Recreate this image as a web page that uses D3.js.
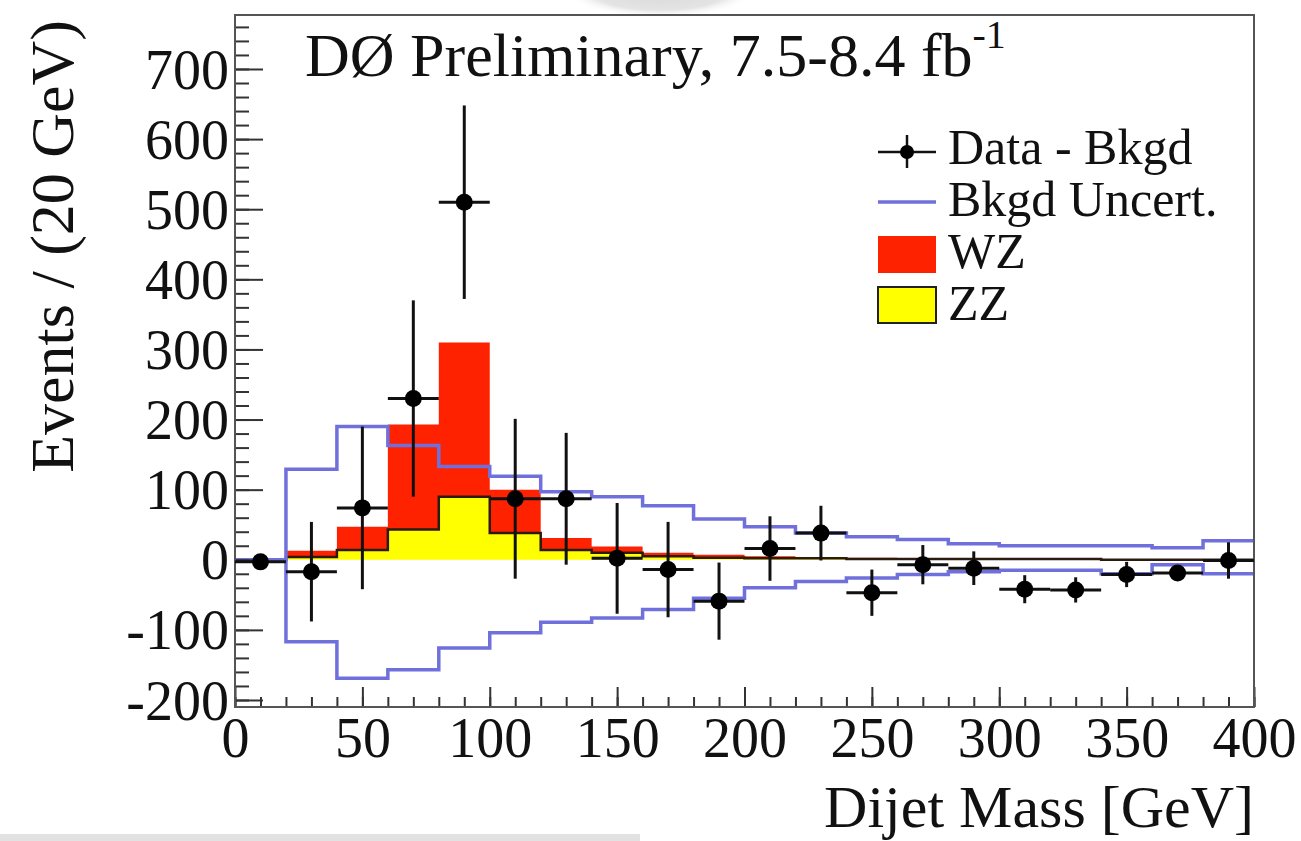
<!DOCTYPE html>
<html>
<head>
<meta charset="utf-8">
<script src="https://cdn.jsdelivr.net/npm/d3@7"></script>
<style>
  html, body { margin: 0; padding: 0; background: #fff; }
  svg { display: block; }
  text { font-family: "Liberation Serif", "Times New Roman", serif; fill: #111; }
</style>
</head>
<body>
<svg id="chart" width="1301" height="841"></svg>
<script>
// Dijet mass, 20 GeV bins (bin centres in GeV)
const binCenters = [10, 30, 50, 70, 90, 110, 130, 150, 170, 190, 210, 230, 250, 270, 290, 310, 330, 350, 370, 390];
const binWidth = 20;

// Data minus background, with statistical errors
const dataMinusBkgd = [-3, -17, 74, 230, 510, 87, 87, 2, -14, -59, 16, 38, -47, -7, -12, -42, -43, -21, -19, -1];
const dataErr       = [3, 71, 116, 140, 138, 114, 94, 79, 68, 55, 46, 39, 33, 28, 24, 20, 18, 18, 10, 26];

// Background uncertainty envelope
const bkgdUncertUp   = [0, 129, 190, 163, 133, 119, 97, 90, 77, 58, 47, 38, 33, 29, 23, 20, 20, 20, 17, 27];
const bkgdUncertDown = [0, -117, -169, -157, -126, -104, -89, -83, -71, -55, -40, -31, -26, -21, -17, -15, -15, -20, -7, -20];

// Expected diboson signal (stacked: ZZ below, WZ on top)
const zzYield = [0, 4, 14, 43, 90, 38, 14, 10, 5, 3, 2, 2, 1, 1, 1, 1, 1, 0, 0, 0];
const wzYield = [0, 9, 33, 150, 220, 62, 17, 9, 5, 4, 3, 2, 2, 1, 1, 0.5, 0.5, 1, 1, 1];

// Axis ticks
const xMajorTicks = [0, 50, 100, 150, 200, 250, 300, 350, 400];
const yMajorTicks = [-200, -100, 0, 100, 200, 300, 400, 500, 600, 700];

const svg = d3.select("#chart");
const frame = { left: 235, right: 1254, top: 15, bottom: 707 };

const x = d3.scaleLinear().domain([0, 400]).range([frame.left, frame.right]);
const y = d3.scaleLinear().domain([-210, 777]).range([frame.bottom, frame.top]);

// soft grey smudges along the top and bottom edges
const defs = svg.append("defs");
const fade = defs.append("radialGradient").attr("id", "smudge");
fade.append("stop").attr("offset", "0%").attr("stop-color", "#d8d8d8");
fade.append("stop").attr("offset", "70%").attr("stop-color", "#e4e4e4");
fade.append("stop").attr("offset", "100%").attr("stop-color", "#ffffff").attr("stop-opacity", 0);
svg.append("ellipse").attr("cx", 660).attr("cy", -8).attr("rx", 95).attr("ry", 26).attr("fill", "url(#smudge)");
svg.append("rect").attr("x", 0).attr("y", 834).attr("width", 640).attr("height", 7).attr("fill", "#e2e2e2");

// histogram helpers: step paths over bin edges
const edges = binCenters.map(c => c - binWidth / 2).concat([binCenters[binCenters.length - 1] + binWidth / 2]);
const extend = arr => arr.concat([arr[arr.length - 1]]);

const total = zzYield.map((v, i) => v + wzYield[i]);

const stackArea = d3.area()
  .x(d => x(d.e))
  .y0(d => y(d.lo))
  .y1(d => y(d.hi))
  .curve(d3.curveStepAfter);

const stepLine = d3.line()
  .x(d => x(d.e))
  .y(d => y(d.v))
  .curve(d3.curveStepAfter);

const zzExt = extend(zzYield), totExt = extend(total);

// WZ (red) stacked on top of ZZ
svg.append("path")
  .attr("d", stackArea(edges.map((e, i) => ({ e, lo: zzExt[i], hi: totExt[i] }))))
  .attr("fill", "#ff2200");

// ZZ (yellow)
svg.append("path")
  .attr("d", stackArea(edges.map((e, i) => ({ e, lo: 0, hi: zzExt[i] }))))
  .attr("fill", "#ffff00");

// ZZ outline
svg.append("path")
  .attr("d", stepLine(edges.map((e, i) => ({ e, v: zzExt[i] }))))
  .attr("fill", "none").attr("stroke", "#2a1a10").attr("stroke-width", 2.5);

// Background uncertainty band edges
const upExt = extend(bkgdUncertUp), downExt = extend(bkgdUncertDown);
[upExt, downExt].forEach(arr => {
  svg.append("path")
    .attr("d", stepLine(edges.map((e, i) => ({ e, v: arr[i] }))))
    .attr("fill", "none").attr("stroke", "#7070dc").attr("stroke-width", 3.5);
});

// Axes (plain hyphen for negative labels)
const plainInt = d => String(d);
const yAxisMinor = d3.axisLeft(y).tickValues(d3.range(-200, 777, 20)).tickSizeInner(-14).tickSizeOuter(0).tickFormat("");
const yAxisMajor = d3.axisLeft(y).tickValues(yMajorTicks).tickSizeInner(-28).tickSizeOuter(0).tickPadding(7).tickFormat(plainInt);
const xAxisMinor = d3.axisBottom(x).tickValues(d3.range(0, 401, 10)).tickSizeInner(-10).tickSizeOuter(0).tickFormat("");
const xAxisMajor = d3.axisBottom(x).tickValues(xMajorTicks).tickSizeInner(-20).tickSizeOuter(0).tickFormat(plainInt);

const axisStyle = g => {
  g.select(".domain").remove();
  g.selectAll("line").attr("stroke", "#333").attr("stroke-width", 2);
};

svg.append("g").attr("transform", `translate(${frame.left},0)`).call(yAxisMinor).call(axisStyle);
const gy = svg.append("g").attr("transform", `translate(${frame.left},0)`).call(yAxisMajor).call(axisStyle);
gy.selectAll("text")
  .attr("font-family", "Liberation Serif, Times New Roman, serif")
  .attr("font-size", 56).attr("fill", "#111")
  .attr("x", -6).attr("dy", "0.34em");

svg.append("g").attr("transform", `translate(0,${frame.bottom})`).call(xAxisMinor).call(axisStyle);
const gx = svg.append("g").attr("transform", `translate(0,${frame.bottom})`).call(xAxisMajor).call(axisStyle);
gx.selectAll("text")
  .attr("font-family", "Liberation Serif, Times New Roman, serif")
  .attr("font-size", 56).attr("fill", "#111")
  .attr("y", 50).attr("dy", 0);

// Frame
svg.append("rect")
  .attr("x", frame.left).attr("y", frame.top)
  .attr("width", frame.right - frame.left).attr("height", frame.bottom - frame.top)
  .attr("fill", "none").attr("stroke", "#555").attr("stroke-width", 2);

// Data points with error bars
const pts = svg.append("g");
binCenters.forEach((c, i) => {
  const v = dataMinusBkgd[i], e = dataErr[i];
  pts.append("line")
    .attr("x1", x(c)).attr("x2", x(c))
    .attr("y1", y(v - e)).attr("y2", y(v + e))
    .attr("stroke", "#111").attr("stroke-width", 3);
  pts.append("line")
    .attr("x1", x(c - binWidth / 2)).attr("x2", x(c + binWidth / 2))
    .attr("y1", y(v)).attr("y2", y(v))
    .attr("stroke", "#111").attr("stroke-width", 3);
  pts.append("circle")
    .attr("cx", x(c)).attr("cy", y(v)).attr("r", 8.5)
    .attr("fill", "#000");
});

// Title
const title = svg.append("text")
  .attr("x", 305).attr("y", 76)
  .attr("font-size", 62);
title.append("tspan").text("DØ Preliminary, 7.5-8.4 fb");
title.append("tspan").attr("font-size", 40).attr("dy", -28).text("-1");

// Axis titles
svg.append("text")
  .attr("x", frame.right).attr("y", 827)
  .attr("text-anchor", "end").attr("font-size", 60)
  .text("Dijet Mass [GeV]");

svg.append("text")
  .attr("transform", "translate(73,20) rotate(-90)")
  .attr("text-anchor", "end").attr("font-size", 62)
  .text("Events / (20 GeV)");

// Legend
const legend = svg.append("g");
const lx0 = 878, lx1 = 936, tx = 948;
const rows = [164, 216, 268, 320];
const legendFont = 50;

// Data - Bkgd
legend.append("line").attr("x1", lx0).attr("x2", lx1).attr("y1", 152).attr("y2", 152)
  .attr("stroke", "#111").attr("stroke-width", 2.5);
legend.append("line").attr("x1", 907).attr("x2", 907).attr("y1", 135).attr("y2", 168)
  .attr("stroke", "#111").attr("stroke-width", 2.5);
legend.append("circle").attr("cx", 907).attr("cy", 152).attr("r", 7).attr("fill", "#000");
legend.append("text").attr("x", tx).attr("y", rows[0]).attr("font-size", legendFont).text("Data - Bkgd");

// Bkgd Uncert.
legend.append("line").attr("x1", lx0).attr("x2", lx1).attr("y1", 202).attr("y2", 202)
  .attr("stroke", "#7070dc").attr("stroke-width", 3.5);
legend.append("text").attr("x", tx).attr("y", rows[1]).attr("font-size", legendFont).text("Bkgd Uncert.");

// WZ
legend.append("rect").attr("x", lx0).attr("y", 236).attr("width", lx1 - lx0).attr("height", 37)
  .attr("fill", "#ff2200");
legend.append("text").attr("x", tx).attr("y", rows[2]).attr("font-size", legendFont).text("WZ");

// ZZ
legend.append("rect").attr("x", lx0).attr("y", 287).attr("width", lx1 - lx0).attr("height", 36)
  .attr("fill", "#ffff00").attr("stroke", "#222").attr("stroke-width", 2);
legend.append("text").attr("x", tx).attr("y", rows[3]).attr("font-size", legendFont).text("ZZ");
</script>
</body>
</html>
